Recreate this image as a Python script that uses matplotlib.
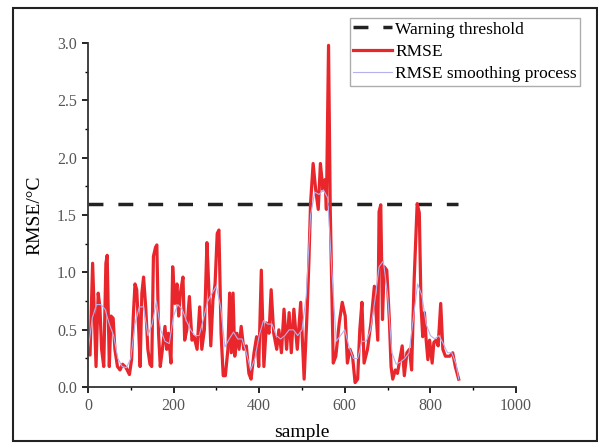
import matplotlib
matplotlib.use('Agg')
import matplotlib.pyplot as plt
from matplotlib.patches import Rectangle
from matplotlib.ticker import MultipleLocator

plt.rcParams['font.family'] = ['Liberation Serif', 'DejaVu Serif']

# RMSE (sample index, value)
sample = [0, 5, 11, 19, 24, 28, 32, 37, 42, 45, 50, 54, 59, 63, 69, 75, 81, 89, 97, 102,
          106, 110, 114, 119, 122, 126, 130, 135, 140, 145, 149, 153, 158, 161, 165, 169, 174, 180, 184, 188,
          194, 198, 203, 208, 212, 216, 222, 226, 231, 237, 243, 248, 255, 261, 266, 272, 278, 282, 287, 292,
          297, 302, 306, 311, 316, 321, 327, 331, 335, 339, 343, 348, 353, 358, 364, 370, 376, 381, 388, 394,
          399, 405, 411, 417, 423, 428, 434, 441, 446, 452, 458, 464, 470, 475, 481, 489, 497, 505, 512, 516,
          520, 526, 532, 538, 543, 549, 554, 557, 562, 566, 570, 573, 579, 587, 594, 601, 606, 612, 618, 624,
          630, 635, 640, 645, 653, 661, 669, 677, 680, 684, 688, 692, 698, 704, 708, 712, 718, 723, 730, 734,
          739, 745, 751, 756, 762, 769, 774, 778, 782, 786, 790, 794, 798, 804, 808, 813, 818, 824, 829, 835,
          845, 852, 858, 866]
rmse = [0.3, 0.28, 1.08, 0.18, 0.82, 0.7, 0.33, 0.18, 1.08, 1.15, 0.18, 0.62, 0.6, 0.33, 0.18, 0.15, 0.2, 0.17, 0.11, 0.24,
        0.62, 0.9, 0.85, 0.47, 0.18, 0.82, 0.96, 0.7, 0.33, 0.2, 0.18, 1.14, 1.22, 1.24, 0.47, 0.18, 0.33, 0.53, 0.33, 0.47,
        0.21, 1.05, 0.73, 0.9, 0.62, 0.82, 0.96, 0.41, 0.5, 0.79, 0.41, 0.44, 0.33, 0.7, 0.33, 0.5, 1.26, 0.9, 0.36, 0.76,
        0.9, 1.34, 1.37, 0.47, 0.1, 0.1, 0.33, 0.82, 0.3, 0.82, 0.27, 0.47, 0.33, 0.53, 0.33, 0.36, 0.12, 0.07, 0.3, 0.44,
        0.18, 1.02, 0.18, 0.56, 0.47, 0.85, 0.47, 0.33, 0.5, 0.3, 0.68, 0.33, 0.65, 0.3, 0.68, 0.33, 0.74, 0.07, 0.66, 1.08,
        1.6, 1.95, 1.72, 1.55, 1.95, 1.72, 1.81, 1.55, 2.98, 1.55, 0.79, 0.21, 0.27, 0.56, 0.74, 0.62, 0.21, 0.33, 0.27, 0.04,
        0.07, 0.5, 0.74, 0.21, 0.33, 0.56, 0.88, 0.41, 1.53, 1.59, 0.59, 1.05, 1.02, 0.59, 0.18, 0.07, 0.15, 0.12, 0.27, 0.36,
        0.1, 0.3, 0.33, 0.15, 0.94, 1.6, 1.52, 0.71, 0.44, 0.65, 0.41, 0.24, 0.41, 0.21, 0.39, 0.41, 0.36, 0.73, 0.33, 0.27,
        0.27, 0.3, 0.18, 0.07]

# smoothed curve (coarser reading)
smooth_x = [0, 10, 20, 30, 40, 50, 60, 70, 80, 90, 100, 110, 120, 130, 140, 150, 160, 170, 180, 190,
            200, 210, 220, 230, 240, 250, 260, 270, 280, 290, 300, 310, 320, 330, 340, 350, 360, 370, 380, 390,
            400, 410, 420, 430, 440, 450, 460, 470, 480, 490, 500, 510, 520, 530, 540, 550, 560, 570, 580, 590,
            600, 610, 620, 630, 640, 650, 660, 670, 680, 690, 700, 710, 720, 730, 740, 750, 760, 770, 780, 790,
            800, 810, 820, 830, 840, 850, 860, 866]
smooth_y = [0.3, 0.6, 0.72, 0.72, 0.68, 0.55, 0.45, 0.25, 0.18, 0.17, 0.25, 0.55, 0.7, 0.7, 0.45, 0.55, 0.75, 0.5, 0.4, 0.38,
            0.62, 0.72, 0.68, 0.58, 0.5, 0.45, 0.45, 0.6, 0.75, 0.82, 0.88, 0.7, 0.35, 0.42, 0.48, 0.42, 0.42, 0.3, 0.15, 0.25,
            0.45, 0.58, 0.55, 0.55, 0.45, 0.42, 0.45, 0.5, 0.5, 0.45, 0.5, 0.8, 1.5, 1.7, 1.68, 1.72, 1.65, 1.0, 0.4, 0.45,
            0.5, 0.35, 0.25, 0.25, 0.4, 0.4, 0.5, 0.75, 1.05, 1.1, 0.8, 0.3, 0.2, 0.22, 0.25, 0.3, 0.6, 0.9, 0.8, 0.55,
            0.45, 0.42, 0.45, 0.38, 0.3, 0.3, 0.2, 0.07]

thresh_x = [0, 865]
threshold = 1.6

fig = plt.figure(figsize=(5.98, 4.44), dpi=100)
ax = fig.add_axes([0.147, 0.128, 0.716, 0.775])

ax.plot(thresh_x, [threshold, threshold], color='#222222', lw=2.5, dashes=(4.3, 4.3),
        label='Warning threshold')
ax.plot(sample, rmse, color='#e8262b', lw=2.3, label='RMSE')
ax.plot(smooth_x, smooth_y, color='#b4b2ee', lw=0.8, label='RMSE smoothing process')

ax.set_xlim(0, 1000)
ax.set_ylim(0, 3.0)
ax.xaxis.set_major_locator(MultipleLocator(200))
ax.xaxis.set_minor_locator(MultipleLocator(100))
ax.yaxis.set_major_locator(MultipleLocator(0.5))
ax.yaxis.set_minor_locator(MultipleLocator(0.25))
ax.yaxis.set_major_formatter(plt.FormatStrFormatter('%.1f'))
ax.tick_params(which='major', direction='out', length=4, width=1.2, labelsize=11.5,
               labelcolor='#555555', pad=4)
ax.tick_params(which='minor', direction='out', length=2.5, width=1)
for s in ['top', 'right']:
    ax.spines[s].set_visible(False)
for s in ['left', 'bottom']:
    ax.spines[s].set_linewidth(1.3)
    ax.spines[s].set_color('#333333')

ax.set_xlabel('sample', fontsize=14, labelpad=7)
ax.set_ylabel('RMSE/°C', fontsize=14, labelpad=10)

leg = ax.legend(loc='upper left', bbox_to_anchor=(0.612, 1.073), fontsize=12.5, frameon=True,
                fancybox=False, edgecolor='#999999', handlelength=2.2, handletextpad=0.2,
                borderpad=0.2, labelspacing=0.35, borderaxespad=0)
leg.get_frame().set_linewidth(1)

fig.patches.append(Rectangle((0.022, 0.006), 0.976, 0.977, transform=fig.transFigure,
                             fill=False, edgecolor='#222222', lw=1.5))

fig.savefig('out.png', dpi=100)
